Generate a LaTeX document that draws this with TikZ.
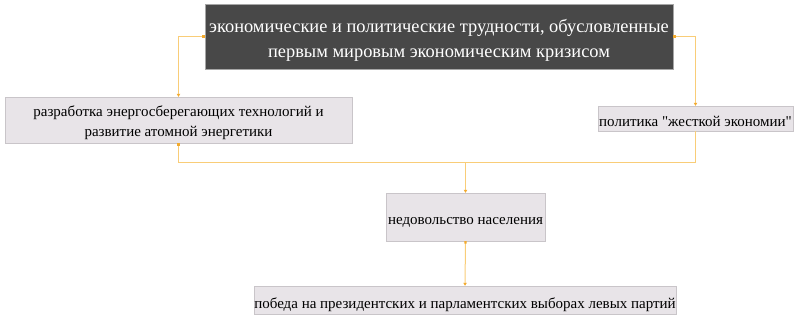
\documentclass[tikz,border=0pt]{standalone}
\usepackage{fontspec}
\setmainfont{Liberation Serif}[Ligatures=TeXOff]
\usetikzlibrary{arrows.meta,shadows}
\definecolor{headfill}{HTML}{484848}
\definecolor{boxfill}{HTML}{E8E4E8}
\definecolor{boxline}{HTML}{C9C5C9}
\definecolor{linkcol}{HTML}{F9CD78}
\definecolor{tipcol}{HTML}{F2AA2E}
% текст блока: первая базовая линия на #1 от центра
\newcommand{\boxtext}[2]{\raisebox{#1}[0pt][0pt]{\begin{tabular}[t]{@{}c@{}}#2\end{tabular}}}
\begin{document}
\begin{tikzpicture}[x=1pt, y=-1pt,
  box/.style={draw=boxline, fill=boxfill, inner sep=0pt,
    font=\fontsize{15}{20}\selectfont,
    drop shadow={opacity=0.12, shadow xshift=1pt, shadow yshift=-1pt}},
  headbox/.style={box, draw=gray!70, fill=headfill, text=white,
    font=\fontsize{18.4}{25}\selectfont},
  link/.style={draw=linkcol, line width=1pt,
    {Square[length=2.4pt, width=2.4pt, color=tipcol]}-{Triangle[length=3pt, width=3.4pt, color=tipcol]}}]
  \useasboundingbox (0,0) rectangle (800,316);

  % Блоки
  \node[headbox, minimum width=468, minimum height=65] (crisis) at (439,36.5)
    {\boxtext{4.5pt}{экономические и политические трудности, обусловленные\\первым мировым экономическим кризисом}};
  \node[box, minimum width=347, minimum height=46] (energy) at (178.5,120)
    {\boxtext{3.3pt}{разработка энергосберегающих технологий и\\развитие атомной энергетики}};
  \node[box, minimum width=195, minimum height=25] (economy) at (695.5,118.5)
    {\boxtext{-7.5pt}{политика "жесткой экономии"}};
  \node[box, minimum width=159, minimum height=48] (discontent) at (465.5,217)
    {\boxtext{-7pt}{недовольство населения}};
  \node[box, minimum width=422, minimum height=28] (victory) at (465,300)
    {\boxtext{-8pt}{победа на президентских и парламентских выборах левых партий}};

  % Точка слияния
  \coordinate (join) at (465.5,162.5);

  % Связи
  \draw[link] (crisis.west) -| (energy.north);
  \draw[link] (crisis.east) -| (economy.north);
  \draw[link] (energy.south) |- (join) -- (discontent.north);
  \draw[link, -] (economy.south) |- (join);
  \draw[link] (discontent.south) -- (victory.north);
\end{tikzpicture}
\end{document}
